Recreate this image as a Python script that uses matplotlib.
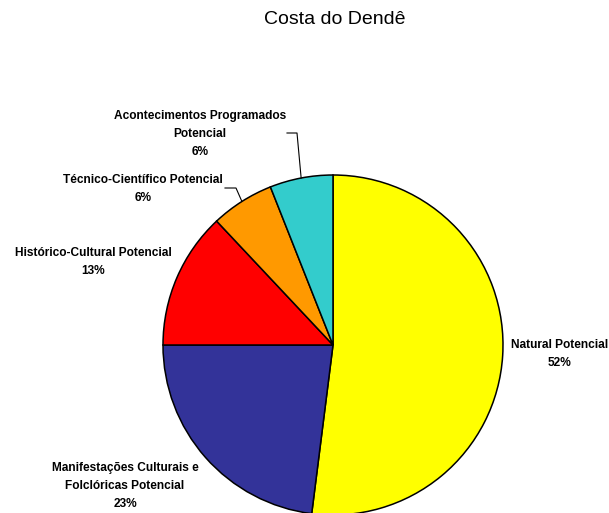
import matplotlib
matplotlib.use("Agg")
import matplotlib.pyplot as plt
from matplotlib import font_manager
import numpy as np

title = "Costa do Dendê"
labels = ["Natural Potencial",
          "Manifestações Culturais e\nFolclóricas Potencial",
          "Histórico-Cultural Potencial",
          "Técnico-Científico Potencial",
          "Acontecimentos Programados\nPotencial"]
values = [52, 23, 13, 6, 6]
colors = ["#FFFF00", "#333399", "#FF0000", "#FF9900", "#33CCCC"]

names = {f.name for f in font_manager.fontManager.ttflist}
narrow = "Liberation Sans Narrow" if "Liberation Sans Narrow" in names else "Liberation Sans"
lab_size = 10.5 if narrow == "Liberation Sans Narrow" else 8.6

W, H = 609, 513
fig = plt.figure(figsize=(W / 100, H / 100), dpi=100)

def fx(px):
    return px / W

def fy(py):
    return 1 - py / H

cx, cy, r = 333, 345, 170
ax = fig.add_axes([fx(cx - r), fy(cy + r), 2 * r / W, 2 * r / H])
wedges, _ = ax.pie(values, colors=colors, startangle=90, counterclock=False,
                   wedgeprops=dict(edgecolor="black", linewidth=1.1))
ax.set_xlim(-1, 1)
ax.set_ylim(-1, 1)
ax.set_aspect("auto")
for w in wedges:
    w.set_clip_on(False)
ax.axis("off")

fig.text(fx(335), fy(20), title, ha="center", va="center",
         fontsize=14, family="Liberation Sans")

# label text positions (pixel centers)
pos = [(560, 354), (125, 486), (93, 262), (143, 189), (200, 134)]
for lab, v, (px, py) in zip(labels, values, pos):
    fig.text(fx(px), fy(py), f"{lab}\n{v}%", ha="center", va="center",
             multialignment="center", fontsize=lab_size, fontweight="bold",
             family=narrow, linespacing=1.62)

# leader lines for the two small slices
total = sum(values)
angles = []
start = 90.0
for v in values:
    span = 360.0 * v / total
    angles.append(start - span / 2)
    start -= span

def edge_px(i):
    a = np.deg2rad(angles[i])
    return cx + r * np.cos(a), cy - r * np.sin(a)

leaders = {4: [(297, 133), (287, 133)], 3: [(236, 188), (225, 188)]}
for i, pts in leaders.items():
    ex, ey = edge_px(i)
    xs = [ex] + [p[0] for p in pts]
    ys = [ey] + [p[1] for p in pts]
    fig.add_artist(plt.Line2D([fx(x) for x in xs], [fy(y) for y in ys],
                              color="black", linewidth=0.8))

fig.savefig("out.png", dpi=100, facecolor="white")
